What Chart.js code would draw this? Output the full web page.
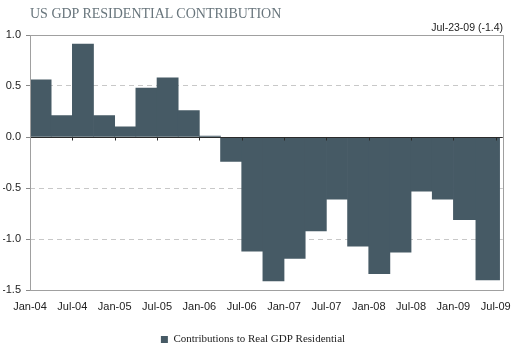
<!DOCTYPE html>
<html>
<head>
<meta charset="utf-8">
<script src="https://cdn.jsdelivr.net/npm/chart.js@4/dist/chart.umd.min.js"></script>
<style>
  html, body { margin: 0; padding: 0; background: #ffffff; }
  #wrap { position: relative; width: 521px; height: 356px; }
  #chart { position: absolute; left: 0; top: 0; }
  #title { position: absolute; left: 30px; top: 7px; font-family: "Liberation Serif", serif; font-size: 14px; line-height: 14px; color: #68757c; white-space: nowrap; }
  #note { position: absolute; right: 18px; top: 22px; font-family: "Liberation Sans", Arial, sans-serif; font-size: 10.5px; line-height: 11px; color: #222; white-space: nowrap; }
</style>
</head>
<body>
<div id="wrap">
  <canvas id="chart" width="521" height="356"></canvas>
  <div id="title">US GDP RESIDENTIAL CONTRIBUTION</div>
  <div id="note">Jul-23-09 (-1.4)</div>
</div>
<script>
// Quarterly periods (months since Jan-04): start and end of each quarter
const quarters = ['Q1-04','Q2-04','Q3-04','Q4-04','Q1-05','Q2-05','Q3-05','Q4-05',
                  'Q1-06','Q2-06','Q3-06','Q4-06','Q1-07','Q2-07','Q3-07','Q4-07',
                  'Q1-08','Q2-08','Q3-08','Q4-08','Q1-09','Q2-09'];
const periodStart = [0,3,6,9,12,15,18,21,24,27,30,33,36,39,42,45,48,51,54,57,60,63];
const periodEnd   = [3,6,9,12,15,18,21,24,27,30,33,36,39,42,45,48,51,54,57,60,63,66.73];
const contributions = [0.56,0.21,0.91,0.21,0.10,0.48,0.58,0.26,0.01,-0.24,-1.12,-1.41,
                       -1.19,-0.92,-0.61,-1.07,-1.34,-1.13,-0.53,-0.61,-0.81,-1.40];
const tickMonths = [0,6,12,18,24,30,36,42,48,54,60,66];
const tickLabels = ['Jan-04','Jul-04','Jan-05','Jul-05','Jan-06','Jul-06',
                    'Jan-07','Jul-07','Jan-08','Jul-08','Jan-09','Jul-09'];
const seriesName = 'Contributions to Real GDP Residential';

const points = contributions.map((v, i) => ({ x: (periodStart[i] + periodEnd[i]) / 2, y: v }));

const framePlugin = {
  id: 'frame',
  afterDatasetsDraw(chart) {
    const { ctx, chartArea: a, scales } = chart;
    const y0 = Math.round(scales.y.getPixelForValue(0)) + 0.5;
    ctx.save();
    // zero line with small tick marks
    ctx.strokeStyle = '#2b2b2b';
    ctx.lineWidth = 1;
    ctx.beginPath();
    ctx.moveTo(a.left, y0);
    ctx.lineTo(a.right, y0);
    tickMonths.forEach(m => {
      const x = Math.round(scales.x.getPixelForValue(m)) + 0.5;
      ctx.moveTo(x, y0);
      ctx.lineTo(x, y0 + 3);
    });
    ctx.stroke();
    // plot frame
    ctx.strokeStyle = '#a0a0a0';
    ctx.strokeRect(Math.round(a.left) + 0.5, Math.round(a.top) + 0.5,
                   Math.round(a.right - a.left), Math.round(a.bottom - a.top));
    ctx.restore();
  }
};

new Chart(document.getElementById('chart'), {
  type: 'bar',
  data: {
    datasets: [{
      label: seriesName,
      data: points,
      backgroundColor: '#465a65',
      borderWidth: 0,
      barThickness: 'flex',
      categoryPercentage: 1.0,
      barPercentage: 1.0
    }]
  },
  options: {
    responsive: false,
    animation: false,
    layout: { padding: { left: 3, right: 18, top: 35, bottom: 1 } },
    scales: {
      x: {
        type: 'linear',
        min: 0,
        max: 67,
        offset: false,
        afterBuildTicks(scale) { scale.ticks = tickMonths.map(v => ({ value: v })); },
        afterFit(scale) { scale.height = 30; },
        grid: { display: false, drawTicks: false },
        border: { display: false },
        ticks: {
          padding: 10,
          maxRotation: 0,
          autoSkip: false,
          color: '#222',
          font: { family: '"Liberation Sans", Arial, sans-serif', size: 11 },
          callback(v) { const i = tickMonths.indexOf(v); return i >= 0 ? tickLabels[i] : ''; }
        }
      },
      y: {
        min: -1.5,
        max: 1.0,
        afterFit(scale) { scale.width = 27; },
        ticks: {
          stepSize: 0.5,
          padding: 5,
          color: '#222',
          font: { family: '"Liberation Sans", Arial, sans-serif', size: 11 },
          callback(v) { return Number(v).toFixed(1); }
        },
        grid: {
          color(ctx) {
            const v = ctx.tick ? ctx.tick.value : null;
            return (v === 0 || v === 1 || v === -1.5) ? 'rgba(0,0,0,0)' : '#c8c8c8';
          },
          tickColor: '#8a8a8a',
          tickLength: 4
        },
        border: { display: false, dash: [5, 4] }
      }
    },
    plugins: {
      legend: {
        position: 'bottom',
        labels: {
          boxWidth: 7,
          boxHeight: 7,
          padding: 14,
          color: '#222',
          font: { family: '"Liberation Serif", serif', size: 11 }
        }
      },
      tooltip: { enabled: false }
    }
  },
  plugins: [framePlugin]
});
</script>
</body>
</html>
